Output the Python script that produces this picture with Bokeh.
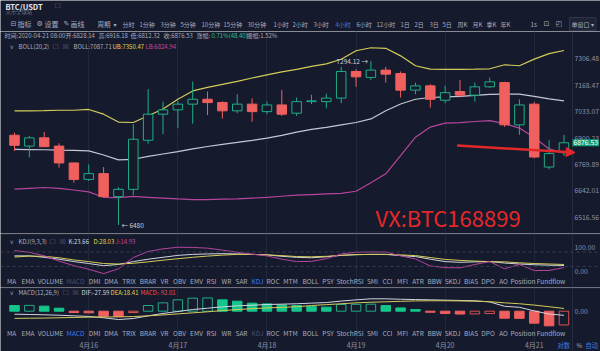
from bokeh.plotting import figure
from bokeh.layouts import column
from bokeh.models import (Range1d, FixedTicker, Label, Span, ColumnDataSource, Grid,
                          Arrow, NormalHead, CustomJSTickFormatter)
from bokeh.embed import file_html
from bokeh.resources import INLINE

# ---------------- data (4h candles, 2020-04-15 04:00 .. 2020-04-21 08:00) ----------------
opens = [6914, 6860, 6901, 6860, 6777, 6697, 6725, 6614, 6649, 6889,
         7020, 7042, 7071, 7096, 7079, 7037, 7071, 7033, 7067, 7025,
         7084, 7084, 7102, 7240, 7209, 7247, 7229, 7143, 7165, 7091,
         7136, 7117, 7160, 7182, 6966, 7071, 6757, 6828.14]
highs = [6927, 6910, 6930, 6874, 6780, 6770, 6757, 6660, 6969, 7148,
         7084, 7088, 7187, 7136, 7085, 7122, 7100, 7084, 7144, 7105,
         7119, 7125, 7264, 7252, 7294.12, 7264, 7240, 7182, 7174, 7165,
         7196, 7182, 7208, 7186, 7096, 7083, 6889, 6916.18]
lows = [6836, 6805, 6855, 6754, 6681, 6689, 6609, 6480, 6622, 6872,
        6919, 6949, 6972, 7015, 6998, 7025, 6982, 7020, 7011, 7011,
        7071, 7050, 7076, 7160, 7195, 7182, 7105, 7122, 7053, 7076,
        7105, 7084, 7155, 6956, 6916, 6800, 6746, 6812.32]
closes = [6864, 6901, 6857, 6777, 6697, 6725, 6614, 6649, 6894, 7020,
          7042, 7071, 7096, 7079, 7037, 7071, 7033, 7067, 7020, 7084,
          7088, 7102, 7240, 7212, 7247, 7226, 7143, 7165, 7096, 7130,
          7117, 7160, 7186, 6966, 7067, 6806, 6823, 6876.53]

boll_ub = [7037, 7037, 7038, 7040, 7040, 7044, 7020, 6980, 6978, 7012,
           7046, 7096, 7139, 7157, 7173, 7188, 7206, 7222, 7238, 7251,
           7267, 7280, 7304, 7349, 7365, 7362, 7322, 7270, 7252, 7251,
           7251, 7252, 7254, 7275, 7270, 7305, 7334, 7350.47]
boll_mid = [6844, 6843, 6842, 6840, 6839, 6836, 6816, 6792, 6795, 6809,
            6821, 6833, 6846, 6858, 6869, 6878, 6888, 6900, 6913, 6930,
            6943, 6953, 6966, 6978, 6996, 7037, 7072, 7096, 7105, 7108,
            7111, 7116, 7121, 7122, 7122, 7111, 7098, 7087.71]
boll_lb = [6650, 6654, 6658, 6654, 6646, 6637, 6611, 6609, 6615, 6611,
           6607, 6603, 6600, 6600, 6602, 6603, 6607, 6611, 6616, 6621,
           6624, 6627, 6630, 6640, 6681, 6724, 6813, 6904, 6955, 6975,
           6977, 6983, 6987, 6972, 6950, 6903, 6846, 6824.94]

kdj_k = [64, 64, 58, 50, 40, 32, 23, 28, 40, 50, 58, 66, 70, 72, 73, 72, 70, 68, 62, 58,
         56, 60, 66, 69, 70, 70, 65, 61, 50, 40, 37, 39, 40, 34, 30, 27, 25, 23.66]
kdj_d = [59, 63, 62, 56, 47, 40, 32, 30, 33, 39, 46, 52, 58, 63, 67, 70, 70, 68, 65, 61,
         60, 62, 66, 69, 70, 70, 68, 65, 57, 49, 45, 42, 40, 39, 35, 32, 30, 28.03]
kdj_j = [86, 79, 64, 42, 23, 8, -10, 10, 57, 82, 93, 100, 99, 96, 88, 79, 71, 64, 50, 40,
         41, 52, 72, 79, 80, 80, 64, 51, 22, 15, 14, 28, 40, 10, 28, 3, 3, 14.93]

macd_dif = [-20, -22, -24, -27, -31, -35, -44, -56, -49, -31, -15, -2, 11, 20, 29, 36, 40, 45, 47, 50,
            54, 58, 68, 76, 83, 83, 80, 78, 76, 74, 72, 70, 62, 33, 26, 2, -19, -27.59]
macd_dea = [-48, -47, -46, -44, -42, -40, -39, -38, -36, -31, -25, -18, -11, -4, 4, 11, 17, 22, 26, 30,
            38, 44, 50, 56, 60, 63, 66, 69, 70, 70, 69, 67, 64, 56, 50, 41, 30, 18.41]
macd_hist = [38, 39, 34, 20, -9, -11, -34, -35, -9, 38, 56, 76, 87, 89, 76, 67, 54, 49, 42, 38,
             31, 27, 45, 46, 47, 38, 22, 11, -7, -15, -19, -18, -16, -47, -48, -80, -98, -92.01]

price_ticks = [6516.56, 6642.01, 6769.89, 6900.23, 7033.07, 7168.47, 7306.48]
day_ticks = [5, 11, 17, 23, 29, 35]
day_labels = ["4月16", "4月17", "4月18", "4月19", "4月20", "4月21"]
arrow_x = [29.8, 37.75]
arrow_y = [6863, 6828]

tab_names = ["MA", "EMA", "VOLUME", "MACD", "DMI", "DMA", "TRIX", "BRAR", "VR", "OBV", "EMV",
             "RSI", "WR", "SAR", "KDJ", "ROC", "MTM", "BOLL", "PSY", "StochRSI", "SMI", "CCI",
             "MFI", "ATR", "BBW", "SKDJ", "BIAS", "DPO", "AO", "Position", "Fundflow"]
periods = ["分时", "1分钟", "3分钟", "5分钟", "10分钟", "15分钟", "30分钟", "1小时", "2小时",
           "3小时", "4小时", "6小时", "12小时", "1日", "2日", "3日", "5日", "周K", "月K", "季K", "年K"]

# ---------------- layout / style ----------------
tab_cx = [11, 27.5, 50, 75, 94, 110.5, 128.5, 147.5, 164, 179, 196, 211, 226, 241, 257, 272.5,
          290, 310, 327.5, 349.5, 372, 387, 402, 417.5, 434, 452, 470.5, 487.5, 503, 522.5, 550.5]
period_x = [122, 139, 160, 180, 201, 223, 247, 273, 292, 313, 335, 356, 376, 400, 414, 429,
            442, 457, 472, 486, 500]

BG = "#161a2d"
GRID = "#22273a"
TXT = "#8d92a5"
LIGHT = "#a9adbf"
UP = "#1fae85"
UP_FILL = "#13c68a"
DN = "#f0605e"
DN_LINE = "#d9514f"
WHITE = "#d2d5df"
YEL = "#d3cb5b"
MAG = "#b5459d"
BLUE = "#3b7de3"
RED = "#e3282a"
DIM = "#4b5066"
FONT = "Noto Sans CJK SC"

idx = list(range(len(opens)))
AXIS_X = 37.576                   # data x where the right price scale starts
xr = Range1d(-0.943, 39.461)


def lab(fig, x, y, text, color=TXT, size="6px", align="left", baseline="middle",
        font=FONT, style="normal", **kw):
    fig.add_layout(Label(x=x, y=y, x_units="screen", y_units="screen", text=text,
                         text_color=color, text_font_size=size, text_align=align,
                         text_baseline=baseline, text_font=font, text_font_style=style, **kw))


def base_fig(height, y_range, y_type="linear", xloc=None):
    f = figure(width=600, height=height, x_range=xr, y_range=y_range, y_axis_type=y_type,
               y_axis_location="right", x_axis_location=xloc, output_backend="svg",
               toolbar_location=None, min_border_left=0, min_border_top=0,
               min_border_bottom=0, min_border_right=0,
               background_fill_color=BG, border_fill_color=BG, outline_line_color=None)
    f.grid.visible = False
    f.add_layout(Grid(dimension=0, ticker=FixedTicker(ticks=day_ticks), grid_line_color=GRID))
    ax = f.yaxis[0]
    ax.fixed_location = AXIS_X
    ax.major_tick_line_color = None
    ax.minor_tick_line_color = None
    ax.major_tick_out = 0
    ax.major_tick_in = 0
    ax.minor_tick_out = 0
    ax.minor_tick_in = 0
    ax.axis_line_color = "#262b3d"
    ax.major_label_text_color = TXT
    ax.major_label_text_font = FONT
    ax.major_label_text_font_size = "6.8px"
    ax.major_label_standoff = 2
    ax.formatter = CustomJSTickFormatter(code="return tick.toFixed(2);")
    return f


def tabs(fig, y, active, dim):
    for name, cx in zip(tab_names, tab_cx):
        c = BLUE if name == active else (DIM if name == dim else LIGHT)
        lab(fig, cx, y, name, color=c, size="6.5px", align="center")


def ind_header(fig, y, title, items, icon_x):
    lab(fig, 9, y, "∨", color=TXT, size="6px", font="DejaVu Sans")
    lab(fig, 18, y, title, color=LIGHT, size="6px")
    lab(fig, icon_x, y, "☐", color="#5a5f73", size="7px", font="DejaVu Sans")
    lab(fig, icon_x + 10, y, "☒", color="#5a5f73", size="7px", font="DejaVu Sans")
    for x, t, c in items:
        lab(fig, x, y, t, color=c, size="6px")


# ---------------- header bar ----------------
h = figure(width=600, height=31, x_range=Range1d(0, 600), y_range=Range1d(0, 31),
           output_backend="svg", toolbar_location=None, min_border=0,
           x_axis_location=None, y_axis_location=None,
           background_fill_color=BG, border_fill_color=BG, outline_line_color=None)
h.grid.visible = False
lab(h, 5, 25.5, "BTC/USDT", color="#e6e8ee", size="7.5px", style="bold")
lab(h, 5, 20, "火币全球站", color="#6d7286", size="5.3px")
lab(h, 54, 25.5, "☐", color="#5a5f73", size="7px", font="DejaVu Sans")
for t, x, f in [("⊟", 10, "DejaVu Sans"), ("指标", 17, FONT), ("⚙", 36, "DejaVu Sans"),
                ("设置", 44, FONT), ("✎", 63, "DejaVu Sans"), ("画线", 70, FONT)]:
    lab(h, x, 7.5, t, color=LIGHT, size="7px", font=f)
lab(h, 97, 7.5, "周期", color=LIGHT, size="6.5px")
lab(h, 113, 7.5, "▾", color=LIGHT, size="6px", font="DejaVu Sans")
for t, x in zip(periods, period_x):
    lab(h, x, 7.5, t, color=BLUE if t == "4小时" else LIGHT, size="6px")
lab(h, 530, 7.5, "1s", color=LIGHT, size="6.3px")
lab(h, 543, 7.5, "⊡", color=LIGHT, size="7px", font="DejaVu Sans")
lab(h, 555, 7.5, "◰", color=LIGHT, size="7px", font="DejaVu Sans")
lab(h, 569, 7.5, "单窗口 ▾", color=LIGHT, size="6px",
    background_fill_color="#1e2336", border_line_color="#2f3549", padding=2)

# ---------------- price panel ----------------
p = base_fig(202, Range1d(6440.3, 7452.0), y_type="log")
p.yaxis.ticker = FixedTicker(ticks=price_ticks)

is_up = [c >= o for o, c in zip(opens, closes)]
cs = ColumnDataSource(dict(
    x=idx, h=highs, l=lows,
    top=[max(o, c) for o, c in zip(opens, closes)],
    bot=[min(o, c) for o, c in zip(opens, closes)],
    line=[UP if u else DN for u in is_up],
    fill=[BG if u else DN for u in is_up]))
p.line(idx, boll_mid, line_color="#c4c8d4", line_width=1.2)
p.line(idx, boll_ub, line_color=YEL, line_width=1.2)
p.line(idx, boll_lb, line_color=MAG, line_width=1.2)
p.segment("x", "l", "x", "h", source=cs, line_color="line", line_width=1)
p.vbar(x="x", width=0.64, top="top", bottom="bot", source=cs,
       fill_color="fill", line_color="line", line_width=1)

lo_i = lows.index(min(lows))
hi_i = highs.index(max(highs))
p.add_layout(Label(x=lo_i, y=lows[lo_i], x_offset=3, text="← %g" % lows[lo_i],
                   text_color="#c9ccd6", text_font_size="6.5px", text_font=FONT,
                   text_baseline="middle"))
p.add_layout(Label(x=hi_i, y=highs[hi_i], x_offset=-3, text="%.2f →" % highs[hi_i],
                   text_color="#c9ccd6", text_font_size="6.5px", text_font=FONT,
                   text_baseline="middle", text_align="right"))

p.add_layout(Arrow(end=NormalHead(size=9, fill_color=RED, line_color=RED),
                   x_start=arrow_x[0], y_start=arrow_y[0], x_end=arrow_x[1], y_end=arrow_y[1],
                   line_color=RED, line_width=2.5))

p.add_layout(Label(x=AXIS_X, y=closes[-1], text="%.2f" % closes[-1], x_offset=0,
                   text_color="#ffffff", text_font_size="6.8px", text_font=FONT,
                   text_baseline="middle", background_fill_color="#13a077", padding=1))

lab(p, 375, 17, "VX:BTC168899", color=RED, size="22px")

# info rows
info = [(4, "时间:2020-04-21 08:00", LIGHT), (65, "开:%.2f" % opens[-1], LIGHT),
        (98, "高:%.2f" % highs[-1], LIGHT), (130, "低:%.2f" % lows[-1], LIGHT),
        (163, "收:%.2f" % closes[-1], LIGHT), (196, "涨幅:", LIGHT),
        (211, "0.71%(48.40)", "#2ec08c"), (246, "振幅:1.52%", LIGHT)]
for x, t, c in info:
    lab(p, x, 198, t, color=c, size="6px")
ind_header(p, 187, "BOLL(20,2)",
           [(73, "BOLL:%.2f" % boll_mid[-1], LIGHT), (112, "UB:%.2f" % boll_ub[-1], "#e2d64a"),
            (145, "LB:%.2f" % boll_lb[-1], "#c9479f")], 52)

# ---------------- KDJ panel ----------------
k = base_fig(54, Range1d(-67.9, 157.1))
k.yaxis.ticker = FixedTicker(ticks=[0, 100])
for lv in (80, 20):
    k.add_layout(Span(location=lv, dimension="width", line_color="#3a3f55",
                      line_dash="3 3", line_width=1))
k.add_layout(Span(location=154.5, dimension="width", line_color="#252a3c", line_width=1))
k.line(idx, kdj_k, line_color=WHITE, line_width=1)
k.line(idx, kdj_d, line_color=YEL, line_width=1)
k.line(idx, kdj_j, line_color=MAG, line_width=1)
ind_header(k, 46, "KDJ(9,3,3)",
           [(68, "K:%.2f" % kdj_k[-1], WHITE), (93, "D:%.2f" % kdj_d[-1], "#e2d64a"),
            (115, "J:%.2f" % kdj_j[-1], "#c9479f")], 49)
tabs(k, 6.5, "KDJ", "MACD")

# ---------------- MACD panel (incl. date scale) ----------------
m = base_fig(64, Range1d(-270.0, 158.8), xloc="below")
m.yaxis.ticker = FixedTicker(ticks=[0])
m.add_layout(Span(location=155.5, dimension="width", line_color="#252a3c", line_width=1))
hollow = [False] + [macd_hist[i] > macd_hist[i - 1] for i in range(1, len(macd_hist))]
hcol = [UP_FILL if v >= 0 else DN for v in macd_hist]
hline = [(UP if v >= 0 else DN_LINE) if ho else c for v, ho, c in zip(macd_hist, hollow, hcol)]
hfill = [BG if ho else c for ho, c in zip(hollow, hcol)]
ms = ColumnDataSource(dict(x=idx, v=macd_hist, fill=hfill, line=hline))
m.vbar(x="x", width=0.64, top="v", bottom=0, source=ms, fill_color="fill",
       line_color="line", line_width=1)
m.line(idx, macd_dif, line_color=WHITE, line_width=1)
m.line(idx, macd_dea, line_color=YEL, line_width=1)
ind_header(m, 59, "MACD(12,26,9)",
           [(81, "DIF:%.2f" % macd_dif[-1], WHITE), (110, "DEA:%.2f" % macd_dea[-1], "#e2d64a"),
            (140, "MACD:%.2f" % macd_hist[-1], "#e8524f")], 62)
tabs(m, 19, "MACD", "KDJ")

xa = m.xaxis[0]
xa.fixed_location = -182.9
xa.ticker = FixedTicker(ticks=day_ticks)
xa.major_label_overrides = {t: s for t, s in zip(day_ticks, day_labels)}
xa.axis_line_color = None
xa.major_tick_line_color = None
xa.minor_tick_line_color = None
xa.major_tick_out = 0
xa.major_tick_in = 0
xa.minor_tick_out = 0
xa.minor_tick_in = 0
xa.major_label_text_color = TXT
xa.major_label_text_font = FONT
xa.major_label_text_font_size = "7px"
xa.major_label_standoff = 1

lab(m, 557, 6.5, "对数", color=BLUE, size="6.3px")
lab(m, 576, 6.5, "%", color=LIGHT, size="6.3px")
lab(m, 585, 6.5, "自动", color=BLUE, size="6.3px")

layout = column(h, p, k, m, spacing=0)
open("out.html", "w").write(file_html(layout, INLINE))
